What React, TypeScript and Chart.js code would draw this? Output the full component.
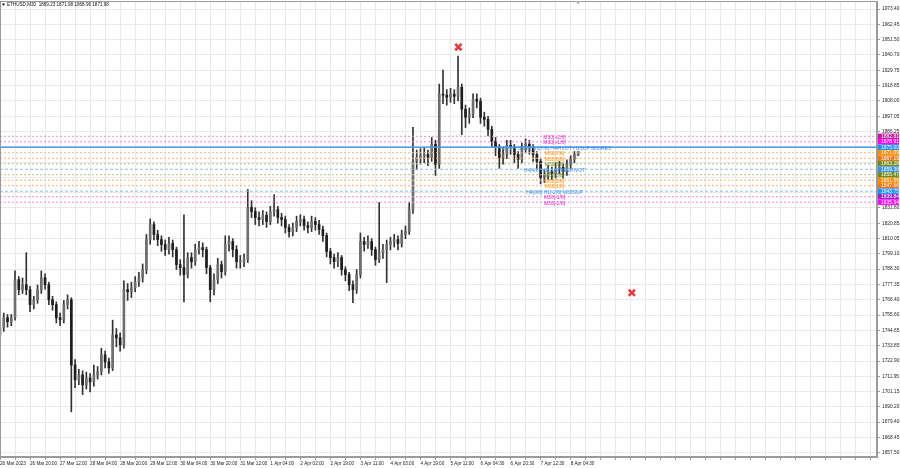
import { useEffect, useRef } from "react";
import { Chart, registerables } from "chart.js";
Chart.register(...registerables);

const titleText = "ETHUSD,M30  1869.23 1871.98 1868.96 1871.98";

const timeLabels = [
  "26 Mar 2023", "26 Mar 20:00", "27 Mar 12:00", "28 Mar 04:00", "28 Mar 20:00",
  "29 Mar 12:00", "30 Mar 04:00", "30 Mar 20:00", "31 Mar 12:00", "1 Apr 04:00",
  "2 Apr 02:00", "2 Apr 19:00", "3 Apr 11:00", "4 Apr 03:00", "4 Apr 19:00",
  "5 Apr 11:00", "6 Apr 04:30", "6 Apr 20:30", "7 Apr 12:30", "8 Apr 04:30",
];

const priceTicks = [
  1973.4, 1962.45, 1951.5, 1940.7, 1929.75, 1918.85, 1908.0, 1897.05, 1886.25, 1875.35,
  1864.45, 1853.55, 1842.65, 1831.8, 1820.85, 1810.05, 1799.1, 1788.3, 1777.35, 1766.4,
  1755.6, 1744.65, 1733.85, 1722.9, 1711.95, 1701.15, 1690.2, 1679.4, 1668.45, 1657.5,
];

const opens = [
  1741.5, 1746.5, 1753.7, 1750.8, 1753.7, 1780.8, 1773.7, 1777.2, 1773.7, 1763.0,
  1766.5, 1773.7, 1782.2, 1777.2, 1766.5, 1763.0, 1753.7, 1752.3, 1763.0, 1766.5,
  1720.1, 1709.5, 1713.0, 1705.9, 1710.9, 1708.0, 1713.0, 1715.2, 1727.3, 1722.3,
  1718.0, 1741.5, 1739.4, 1734.4, 1773.7, 1772.2, 1775.1, 1779.4, 1782.2, 1787.9,
  1809.3, 1820.0, 1812.9, 1809.3, 1805.8, 1802.2, 1806.5, 1802.2, 1791.5, 1789.4,
  1784.4, 1796.5, 1793.6, 1802.2, 1803.6, 1802.2, 1789.4, 1773.7, 1780.8, 1791.5,
  1786.5, 1805.8, 1807.9, 1802.2, 1793.6, 1793.6, 1795.1, 1832.2, 1829.3, 1825.0,
  1823.6, 1826.5, 1822.2, 1829.3, 1830.7, 1825.0, 1823.6, 1817.9, 1815.0, 1817.9,
  1822.2, 1823.6, 1819.3, 1817.9, 1822.2, 1820.0, 1816.5, 1812.2, 1800.8, 1796.5,
  1793.6, 1796.5, 1787.9, 1784.4, 1777.2, 1773.7, 1784.4, 1807.9, 1805.8, 1807.9,
  1802.2, 1795.1, 1800.0, 1802.2, 1805.8, 1807.9, 1809.3, 1806.5, 1812.9, 1815.0,
  1830.7, 1865.0, 1867.8, 1869.2, 1869.9, 1867.8, 1877.1, 1862.8, 1912.8, 1912.1,
  1910.6, 1912.8, 1911.3, 1917.8, 1902.1, 1896.4, 1898.5, 1909.2, 1907.8, 1896.4,
  1894.9, 1887.8, 1879.2, 1874.9, 1867.8, 1869.9, 1876.4, 1874.9, 1869.9, 1866.4,
  1873.5, 1877.1, 1874.9, 1869.9, 1865.0, 1853.6, 1855.0, 1857.8, 1856.4, 1859.3,
  1860.7, 1857.8, 1862.8, 1866.4, 1869.23,
];

const highs = [
  1749, 1757, 1756, 1756, 1787, 1783, 1782, 1800, 1776, 1769,
  1777, 1787, 1785, 1779, 1769, 1765, 1757, 1766, 1770, 1768,
  1724, 1717, 1716, 1715, 1714, 1720, 1719, 1732, 1730, 1725,
  1752, 1746, 1743, 1780, 1778, 1779, 1783, 1786, 1792, 1813,
  1824, 1822, 1816, 1812, 1809, 1811, 1809, 1804, 1795, 1827,
  1800, 1800, 1806, 1808, 1807, 1804, 1791, 1785, 1796, 1794,
  1812, 1812, 1810, 1805, 1798, 1799, 1845, 1837, 1832, 1829,
  1830, 1829, 1833, 1841.4, 1833, 1828, 1826, 1820, 1821, 1826,
  1827, 1826, 1822, 1826, 1825, 1823, 1819, 1814, 1803, 1799,
  1800, 1798, 1790, 1786, 1780, 1788, 1814, 1811, 1812, 1810,
  1804, 1835.7, 1806, 1809, 1811, 1813, 1812, 1816, 1819, 1836,
  1889.2, 1873, 1874, 1875, 1873, 1882, 1880, 1920, 1930, 1916,
  1917, 1916, 1939.9, 1920, 1905, 1903, 1913, 1913, 1910, 1900,
  1897, 1890, 1882, 1877, 1874, 1880, 1880, 1877, 1872, 1878,
  1881, 1880, 1877, 1872, 1867, 1859, 1862, 1861, 1864, 1865,
  1863, 1866, 1869, 1872, 1871.98,
];

const lows = [
  1737, 1744, 1747, 1748, 1752, 1770, 1771, 1770, 1758, 1760,
  1764, 1771, 1774, 1763, 1759, 1750, 1748, 1750, 1760, 1686.7,
  1704, 1706, 1699, 1703, 1701, 1705, 1710, 1713, 1718, 1714,
  1716, 1733, 1730, 1732, 1766, 1768, 1772, 1776, 1779, 1785,
  1806, 1809, 1805, 1801, 1798, 1799, 1797, 1788, 1784, 1765,
  1782, 1789, 1791, 1799, 1797, 1785, 1765, 1770, 1778, 1782,
  1784, 1801, 1797, 1789, 1789, 1790, 1793, 1825, 1820, 1819,
  1820, 1818, 1820, 1826, 1821, 1819, 1814, 1811, 1812, 1815,
  1819, 1816, 1814, 1815, 1816, 1813, 1808, 1797, 1792, 1789,
  1790, 1784, 1780, 1773, 1764.4, 1771, 1782, 1801, 1803, 1798,
  1791, 1793, 1796, 1778.7, 1802, 1804, 1802, 1804, 1810, 1813,
  1828, 1859, 1863, 1864, 1862, 1865, 1855, 1860, 1906, 1905,
  1907, 1906, 1908, 1884, 1889, 1892, 1896, 1903, 1892, 1890,
  1883, 1875, 1869, 1860, 1863, 1867, 1870, 1864, 1860, 1864,
  1871, 1870, 1865, 1860, 1849, 1850, 1852, 1852, 1853, 1856,
  1853, 1855, 1860, 1864, 1868.96,
];

const closes = [
  1746.5, 1753.7, 1750.8, 1753.7, 1780.8, 1773.7, 1777.2, 1773.7, 1763.0, 1766.5,
  1773.7, 1782.2, 1777.2, 1766.5, 1763.0, 1753.7, 1752.3, 1763.0, 1766.5, 1720.1,
  1709.5, 1713.0, 1705.9, 1710.9, 1708.0, 1713.0, 1715.2, 1727.3, 1722.3, 1718.0,
  1741.5, 1739.4, 1734.4, 1773.7, 1772.2, 1775.1, 1779.4, 1782.2, 1787.9, 1809.3,
  1820.0, 1812.9, 1809.3, 1805.8, 1802.2, 1806.5, 1802.2, 1791.5, 1789.4, 1784.4,
  1796.5, 1793.6, 1802.2, 1803.6, 1802.2, 1789.4, 1773.7, 1780.8, 1791.5, 1786.5,
  1805.8, 1807.9, 1802.2, 1793.6, 1793.6, 1795.1, 1832.2, 1829.3, 1825.0, 1823.6,
  1826.5, 1822.2, 1829.3, 1830.7, 1825.0, 1823.6, 1817.9, 1815.0, 1817.9, 1822.2,
  1823.6, 1819.3, 1817.9, 1822.2, 1820.0, 1816.5, 1812.2, 1800.8, 1796.5, 1793.6,
  1796.5, 1787.9, 1784.4, 1777.2, 1773.7, 1784.4, 1807.9, 1805.8, 1807.9, 1802.2,
  1795.1, 1800.0, 1802.2, 1805.8, 1807.9, 1809.3, 1806.5, 1812.9, 1815.0, 1830.7,
  1865.0, 1867.8, 1869.2, 1869.9, 1867.8, 1877.1, 1862.8, 1912.8, 1912.1, 1910.6,
  1912.8, 1911.3, 1917.8, 1902.1, 1896.4, 1898.5, 1909.2, 1907.8, 1896.4, 1894.9,
  1887.8, 1879.2, 1874.9, 1867.8, 1869.9, 1876.4, 1874.9, 1869.9, 1866.4, 1873.5,
  1877.1, 1874.9, 1869.9, 1865.0, 1853.6, 1855.0, 1857.8, 1856.4, 1859.3, 1860.7,
  1857.8, 1862.8, 1866.4, 1869.9, 1871.98,
];

const levelValues = [
  1882.81, 1878.91, 1875.0, 1871.09, 1867.19, 1863.28, 1859.38,
  1855.47, 1851.56, 1847.66, 1843.75, 1839.84, 1835.94,
];
const levelTexts = [
  "M30[+2/8]", "M30[+1/8]", "H4[8/8] H1[0/8] D1[7/8] H4PIVOT H1SUP M30RES",
  "M30[7/8]", "M30[6/8]", "M30[5/8]", "H4[4/8] H1[-1/8] M30PIVOT",
  "M30[3/8]", "M30[2/8]", "M30[1/8]", "H4[0/8] H1[-2/8] M30SUP",
  "M30[-1/8]", "M30[-2/8]",
];
const levelKinds = ["mag", "mag", "main", "org", "org", "olv", "blu", "olv", "org", "org", "blu", "mag", "mag"];
const boxColors = [
  "#c8179f", "#ff00ff", "#1e90ff", "#ff8c00", "#e8761c", "#6b8e23", "#3d8ee0",
  "#6b8e23", "#ff8c00", "#e8761c", "#1e90ff", "#a020c8", "#ff00ff",
];
const levelTextX = 147.7;

const crossMarks = [
  { x: 122.1, y: 1946.3 },
  { x: 168.3, y: 1771.5 },
];

const X_MAX = 233.6;
const Y_MIN = 1654.6;
const Y_MAX = 1979.1;

const kindStyle: Record<string, { line: string; text: string; dash: number[]; width: number }> = {
  mag: { line: "#f08ae0", text: "#e020c8", dash: [2, 2], width: 1 },
  main: { line: "#4b9be8", text: "#3d8fe8", dash: [], width: 1.6 },
  org: { line: "#ffb070", text: "#ff8800", dash: [2, 2], width: 1 },
  olv: { line: "#b8c090", text: "#6b8e23", dash: [2, 2], width: 1 },
  blu: { line: "#8cc0f0", text: "#3d8fe8", dash: [3, 2], width: 1 },
};

const FONT = "'Liberation Sans', Arial, sans-serif";

const zeroPad = (s: any) => {
  s.paddingTop = 0;
  s.paddingBottom = 0;
  s.paddingLeft = 0;
  s.paddingRight = 0;
};

export default function App() {
  const ref = useRef<HTMLCanvasElement | null>(null);

  useEffect(() => {
    document.body.style.margin = "0";
    const canvas = ref.current;
    if (!canvas) return;

    const wickData = lows.map((l, i) => ({ x: i, y: [l, highs[i]] }));
    const bodyData = opens.map((o, i) => ({ x: i, y: [o, closes[i]] }));
    const bodyColors = opens.map((o, i) => (closes[i] >= o ? "#6e6e6e" : "#1e1e1e"));

    const levelDatasets = levelValues.map((v, k) => {
      const st = kindStyle[levelKinds[k]];
      return {
        type: "line" as const,
        data: [
          { x: 0, y: v },
          { x: X_MAX, y: v },
        ],
        borderColor: st.line,
        borderWidth: st.width,
        borderDash: st.dash,
        pointRadius: 0,
        pointHoverRadius: 0,
        order: 0,
      };
    });

    const overlay = {
      id: "overlay",
      afterDatasetsDraw(chart: any) {
        const { ctx, scales } = chart;
        const xs = scales.x;
        const ys = scales.y;
        ctx.save();
        ctx.font = `5px ${FONT}`;
        ctx.textAlign = "center";
        ctx.textBaseline = "middle";
        const lx = xs.getPixelForValue(levelTextX);
        levelValues.forEach((v, k) => {
          ctx.fillStyle = kindStyle[levelKinds[k]].text;
          ctx.fillText(levelTexts[k], lx, ys.getPixelForValue(v) + 1);
        });
        ctx.restore();
      },
      afterDraw(chart: any) {
        const { ctx, scales, chartArea } = chart;
        const ys = scales.y;
        const xs = scales.x;
        ctx.save();
        ctx.strokeStyle = "#9a9a9a";
        ctx.lineWidth = 1;
        ctx.strokeRect(chartArea.left + 0.5, chartArea.top + 0.5, chartArea.right - chartArea.left - 1, chartArea.bottom - chartArea.top - 1);
        const step = Math.abs(ys.getPixelForValue(levelValues[1]) - ys.getPixelForValue(levelValues[0]));
        ctx.font = `5px ${FONT}`;
        ctx.textAlign = "left";
        ctx.textBaseline = "middle";
        levelValues.forEach((v, k) => {
          const py = ys.getPixelForValue(v);
          ctx.fillStyle = boxColors[k];
          ctx.fillRect(chartArea.right + 1, py - step / 2, 21, step);
          ctx.fillStyle = "#ffffff";
          ctx.fillText(v.toFixed(2), chartArea.right + 4, py + 0.3);
        });
        ctx.fillStyle = "#111";
        ctx.font = `4.6px ${FONT}`;
        ctx.textAlign = "left";
        ctx.fillText(titleText, chartArea.left + 7, chartArea.top + 4);
        ctx.beginPath();
        ctx.moveTo(chartArea.left + 2, chartArea.top + 2.5);
        ctx.lineTo(chartArea.left + 5, chartArea.top + 2.5);
        ctx.lineTo(chartArea.left + 3.5, chartArea.top + 5);
        ctx.closePath();
        ctx.fill();
        const sx = xs.getPixelForValue(closes.length - 1);
        ctx.fillStyle = "#b0b0b0";
        ctx.beginPath();
        ctx.moveTo(sx - 2.5, chartArea.top);
        ctx.lineTo(sx + 2.5, chartArea.top);
        ctx.lineTo(sx, chartArea.top + 3.5);
        ctx.closePath();
        ctx.fill();
        ctx.restore();
      },
    };

    const chart = new Chart(canvas, {
      type: "bar",
      data: {
        datasets: [
          ...levelDatasets,
          {
            type: "line" as const,
            data: crossMarks,
            showLine: false,
            pointStyle: "crossRot",
            pointRadius: 4.5,
            pointHoverRadius: 4.5,
            pointBorderWidth: 2.6,
            pointBorderColor: "#e8393f",
            pointBackgroundColor: "#e8393f",
            order: -1,
          },
          {
            type: "bar" as const,
            data: bodyData as any,
            backgroundColor: bodyColors,
            barThickness: 2,
            grouped: false,
            minBarLength: 1,
            order: 1,
          },
          {
            type: "bar" as const,
            data: wickData as any,
            backgroundColor: "#333333",
            barThickness: 1,
            grouped: false,
            order: 2,
          },
        ] as any,
      },
      plugins: [overlay],
      options: {
        animation: false,
        responsive: true,
        maintainAspectRatio: false,
        events: [],
        layout: { autoPadding: false, padding: { top: 1, left: 0, right: 0, bottom: 0 } },
        plugins: { legend: { display: false }, tooltip: { enabled: false } },
        scales: {
          x: {
            type: "linear",
            min: 0,
            max: X_MAX,
            offset: false,
            afterBuildTicks: (s: any) => {
              const t = [];
              for (let v = 0; v <= X_MAX; v += 4) t.push({ value: v });
              s.ticks = t;
            },
            afterFit: (s: any) => {
              s.height = 11;
              zeroPad(s);
            },
            ticks: {
              autoSkip: false,
              maxRotation: 0,
              minRotation: 0,
              align: "start",
              padding: 1,
              color: "#222",
              font: { size: 4.6, family: FONT },
              callback: (v: any) => {
                const n = Number(v);
                return n % 8 === 0 && timeLabels[n / 8] ? timeLabels[n / 8] : "";
              },
            },
            grid: { color: "#e9e9e9", offset: false, tickLength: 3, tickColor: "#9a9a9a" },
            border: { color: "#9a9a9a" },
          },
          y: {
            type: "linear",
            position: "right",
            min: Y_MIN,
            max: Y_MAX,
            beginAtZero: false,
            afterBuildTicks: (s: any) => {
              s.ticks = priceTicks.map((v) => ({ value: v }));
            },
            afterFit: (s: any) => {
              s.width = 23;
              zeroPad(s);
            },
            ticks: {
              padding: 2,
              color: "#222",
              font: { size: 4.8, family: FONT },
              callback: (v: any) => Number(v).toFixed(2),
            },
            grid: { color: "#e9e9e9", tickLength: 3, tickColor: "#9a9a9a" },
            border: { color: "#9a9a9a" },
          },
        },
      },
    });

    return () => chart.destroy();
  }, []);

  return (
    <div style={{ position: "fixed", left: 0, top: 0, width: 900, height: 468, background: "#fff" }}>
      <canvas ref={ref} />
    </div>
  );
}
